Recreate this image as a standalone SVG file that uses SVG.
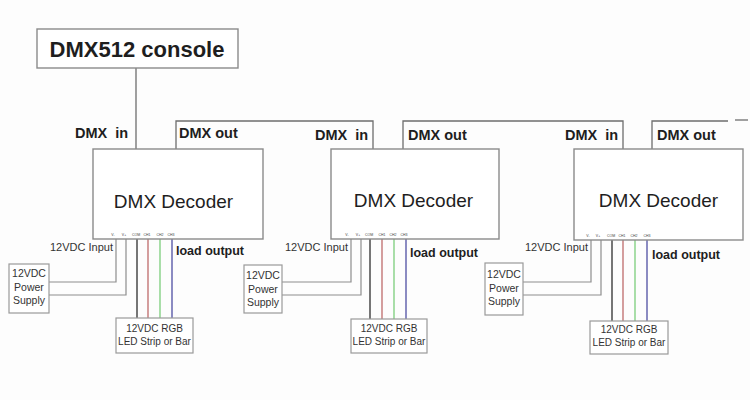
<svg xmlns="http://www.w3.org/2000/svg" width="750" height="400" viewBox="0 0 750 400">
<style>
.bg{fill:#fdfdfd}
.box{fill:#fff;stroke:#8a8a8a;stroke-width:1.4}
.sbox{fill:#fff;stroke:#9a9a9a;stroke-width:1.2}
.w{fill:none;stroke:#6e6e6e;stroke-width:1.3}
.wg{fill:none;stroke:#8e8e8e;stroke-width:1.2}
.com{stroke:#3c3c3c;stroke-width:1.4}
.red{stroke:#c27474;stroke-width:1.4}
.grn{stroke:#84d084;stroke-width:1.4}
.blu{stroke:#5a5aa8;stroke-width:1.4}
text{font-family:"Liberation Sans",Arial,sans-serif;fill:#1e1e1e}
.title{font-size:22px;font-weight:bold;text-anchor:middle}
.dec{font-size:19px;text-anchor:middle}
.lbl{font-size:14.5px;font-weight:bold}
.load{font-size:12.5px;font-weight:bold}
.inp{font-size:11px;fill:#333}
.sm{font-size:10.5px;text-anchor:middle;fill:#333}
.led{font-size:10px;text-anchor:middle;fill:#333}
.pin{font-size:3.5px;text-anchor:middle;fill:#444}
</style>
<rect class="bg" x="0" y="0" width="750" height="400"/>

<g id="connectors">
  <!-- DMX chain -->
  <line class="w" x1="136" y1="68" x2="136" y2="149"/>
  <polyline class="w" points="176,149 176,121 373,121 373,149"/>
  <polyline class="w" points="403,149 403,121 623,121 623,149"/>
  <polyline class="w" points="652,149 652,121 728,121"/>
  <line class="w" x1="735" y1="120" x2="748" y2="120"/>
  <!-- decoder 1 wires -->
  <polyline class="wg" points="116,239 116,282 49,282"/>
  <polyline class="wg" points="126,239 126,295 49,295"/>
  <line class="com" x1="137" y1="239" x2="137" y2="318"/>
  <line class="red" x1="148" y1="239" x2="148" y2="318"/>
  <line class="grn" x1="160" y1="239" x2="160" y2="318"/>
  <line class="blu" x1="172" y1="239" x2="172" y2="318"/>
  <!-- decoder 2 wires -->
  <polyline class="wg" points="351,239 351,282 282,282"/>
  <polyline class="wg" points="361,239 361,295 282,295"/>
  <line class="com" x1="370" y1="239" x2="370" y2="319"/>
  <line class="red" x1="382" y1="239" x2="382" y2="319"/>
  <line class="grn" x1="394" y1="239" x2="394" y2="319"/>
  <line class="blu" x1="406" y1="239" x2="406" y2="319"/>
  <!-- decoder 3 wires -->
  <polyline class="wg" points="591,240 591,282 523,282"/>
  <polyline class="wg" points="601,240 601,295 523,295"/>
  <line class="com" x1="612" y1="240" x2="612" y2="321"/>
  <line class="red" x1="623" y1="240" x2="623" y2="321"/>
  <line class="grn" x1="635" y1="240" x2="635" y2="321"/>
  <line class="blu" x1="647" y1="240" x2="647" y2="321"/>
  <!-- labels -->
  <text class="lbl" x="75" y="138" xml:space="preserve">DMX  in</text>
  <text class="lbl" x="179" y="138">DMX out</text>
  <text class="lbl" x="315" y="140" xml:space="preserve">DMX  in</text>
  <text class="lbl" x="408" y="140">DMX out</text>
  <text class="lbl" x="565" y="140" xml:space="preserve">DMX  in</text>
  <text class="lbl" x="657" y="140">DMX out</text>
  <text class="inp" x="50" y="251">12VDC Input</text>
  <text class="inp" x="285" y="251">12VDC Input</text>
  <text class="inp" x="525" y="251">12VDC Input</text>
  <text class="load" x="176" y="255">load output</text>
  <text class="load" x="410" y="257">load output</text>
  <text class="load" x="652" y="259">load output</text>
</g>

<g id="console">
  <rect class="box" x="37" y="29" width="201" height="39"/>
  <text class="title" x="137" y="57">DMX512 console</text>
</g>

<g id="decoder1">
  <rect class="box" x="93" y="149" width="170" height="90"/>
  <text class="dec" x="173.5" y="208">DMX Decoder</text>
  <text class="pin" x="113" y="236">V-</text>
  <text class="pin" x="124" y="236">V+</text>
  <text class="pin" x="136" y="236">COM</text>
  <text class="pin" x="147" y="236">CH1</text>
  <text class="pin" x="160" y="236">CH2</text>
  <text class="pin" x="171" y="236">CH3</text>
</g>
<g id="decoder2">
  <rect class="box" x="331" y="149" width="168" height="90"/>
  <text class="dec" x="413.5" y="207">DMX Decoder</text>
  <text class="pin" x="347" y="236">V-</text>
  <text class="pin" x="358" y="236">V+</text>
  <text class="pin" x="369" y="236">COM</text>
  <text class="pin" x="382" y="236">CH1</text>
  <text class="pin" x="393" y="236">CH2</text>
  <text class="pin" x="404" y="236">CH3</text>
</g>
<g id="decoder3">
  <rect class="box" x="574" y="149" width="169" height="91"/>
  <text class="dec" x="658.5" y="207">DMX Decoder</text>
  <text class="pin" x="588" y="237">V-</text>
  <text class="pin" x="598" y="237">V+</text>
  <text class="pin" x="611" y="237">COM</text>
  <text class="pin" x="622" y="237">CH1</text>
  <text class="pin" x="634" y="237">CH2</text>
  <text class="pin" x="647" y="237">CH3</text>
</g>

<g id="psu1">
  <rect class="sbox" x="9" y="264" width="40" height="49"/>
  <text class="sm" x="29" y="277">12VDC</text>
  <text class="sm" x="29" y="291">Power</text>
  <text class="sm" x="29" y="304">Supply</text>
</g>
<g id="psu2">
  <rect class="sbox" x="244" y="265" width="38" height="48"/>
  <text class="sm" x="263" y="279">12VDC</text>
  <text class="sm" x="263" y="293">Power</text>
  <text class="sm" x="263" y="306">Supply</text>
</g>
<g id="psu3">
  <rect class="sbox" x="485" y="263" width="38" height="52"/>
  <text class="sm" x="504" y="278">12VDC</text>
  <text class="sm" x="504" y="292">Power</text>
  <text class="sm" x="504" y="305">Supply</text>
</g>

<g id="led1">
  <rect class="sbox" x="116" y="318" width="77" height="35"/>
  <text class="led" x="154.5" y="332">12VDC RGB</text>
  <text class="led" x="154.5" y="345">LED Strip or Bar</text>
</g>
<g id="led2">
  <rect class="sbox" x="351" y="319" width="76" height="34"/>
  <text class="led" x="389" y="332">12VDC RGB</text>
  <text class="led" x="389" y="345">LED Strip or Bar</text>
</g>
<g id="led3">
  <rect class="sbox" x="590" y="321" width="78" height="33"/>
  <text class="led" x="629" y="333">12VDC RGB</text>
  <text class="led" x="629" y="346">LED Strip or Bar</text>
</g>
</svg>
